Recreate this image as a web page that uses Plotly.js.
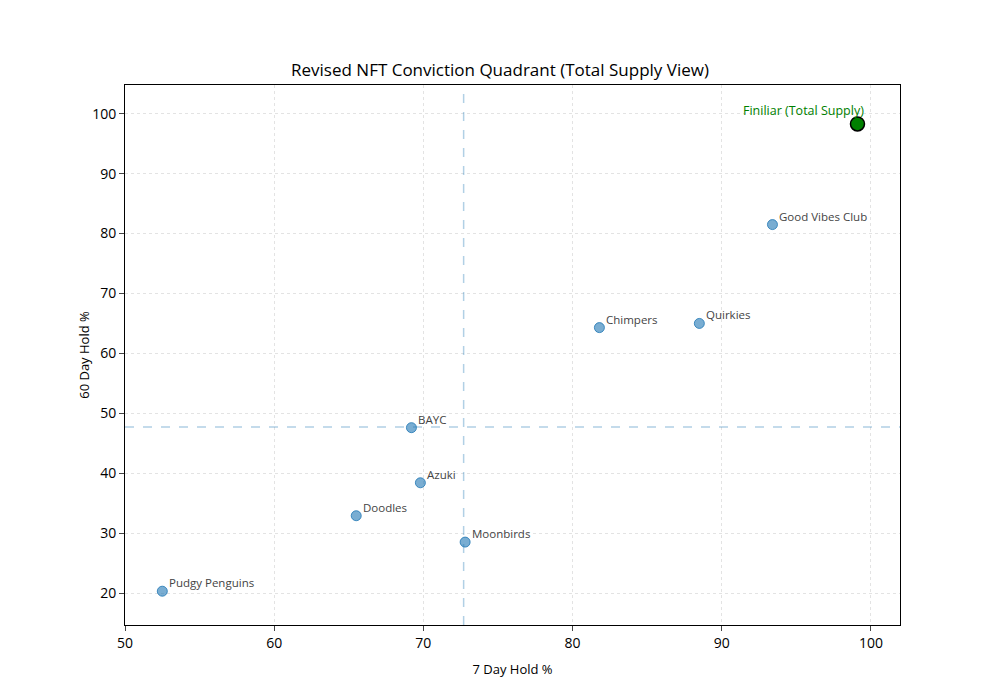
<!DOCTYPE html>
<html>
<head>
<meta charset="utf-8">
<script src="https://cdn.plot.ly/plotly-3.0.1.min.js"></script>
<style>body{margin:0}#chart{width:1000px;height:700px}</style>
</head>
<body>
<div id="chart"></div>
<script>
// Collections
var names = ["Pudgy Penguins", "Doodles", "Azuki", "BAYC", "Moonbirds", "Chimpers", "Quirkies", "Good Vibes Club"];
var hold7 = [52.5, 65.5, 69.8, 69.2, 72.8, 81.8, 88.5, 93.4];
var hold60 = [20.3, 32.9, 38.4, 47.6, 28.5, 64.3, 65.0, 81.5];

var focusName = ["Finiliar (Total Supply)"];
var focus7 = [99.1];
var focus60 = [98.3];

var avg7 = 72.7;
var avg60 = 47.7;

var others = {
    type: 'scatter', mode: 'markers', x: hold7, y: hold60,
    marker: {size: 10, color: 'rgba(31,119,180,0.6)', line: {color: 'rgba(31,119,180,0.8)', width: 1}},
    hoverinfo: 'text', text: names
};
var focus = {
    type: 'scatter', mode: 'markers', x: focus7, y: focus60,
    marker: {size: 14, color: 'green', line: {color: 'black', width: 1.5}},
    hoverinfo: 'text', text: focusName
};

var annotations = names.map(function (n, i) {
    return {x: hold7[i], y: hold60[i], text: n, showarrow: false, xanchor: 'left', yanchor: 'bottom',
        xshift: 5, yshift: -1, font: {size: 11.5, color: '#444'}};
});
annotations.push({x: focus7[0], y: focus60[0], text: focusName[0], showarrow: false, xanchor: 'right',
    yanchor: 'bottom', xshift: 9, yshift: 3, font: {size: 12.5, color: 'green'}});

var layout = {
    width: 1000, height: 700,
    margin: {l: 125, r: 100, t: 85, b: 75},
    paper_bgcolor: 'white', plot_bgcolor: 'white',
    font: {family: 'Open Sans, sans-serif', color: 'black'},
    showlegend: false,
    title: {text: 'Revised NFT Conviction Quadrant (Total Supply View)', x: 0.5, xanchor: 'center',
        yref: 'container', y: 0.9, yanchor: 'middle', font: {size: 17}},
    xaxis: {
        title: {text: '7 Day Hold %', font: {size: 13}}, range: [50, 101.95], dtick: 10,
        showline: true, mirror: true, linecolor: 'black', ticks: 'outside', tickfont: {size: 14},
        gridcolor: '#e3e3e3', griddash: 'dot', zeroline: false
    },
    yaxis: {
        title: {text: '60 Day Hold %', font: {size: 13}}, range: [14.66, 104.8], dtick: 10,
        showline: true, mirror: true, linecolor: 'black', ticks: 'outside', tickfont: {size: 14},
        gridcolor: '#e3e3e3', griddash: 'dot', zeroline: false
    },
    shapes: [
        {type: 'line', xref: 'x', yref: 'paper', x0: avg7, x1: avg7, y0: 0, y1: 1, line: {color: 'rgba(31,119,180,0.35)', dash: 'dash', width: 1.5}},
        {type: 'line', xref: 'paper', yref: 'y', x0: 0, x1: 1, y0: avg60, y1: avg60, line: {color: 'rgba(31,119,180,0.35)', dash: 'dash', width: 1.5}}
    ],
    annotations: annotations
};

Plotly.newPlot('chart', [others, focus], layout, {displayModeBar: false});
</script>
</body>
</html>
